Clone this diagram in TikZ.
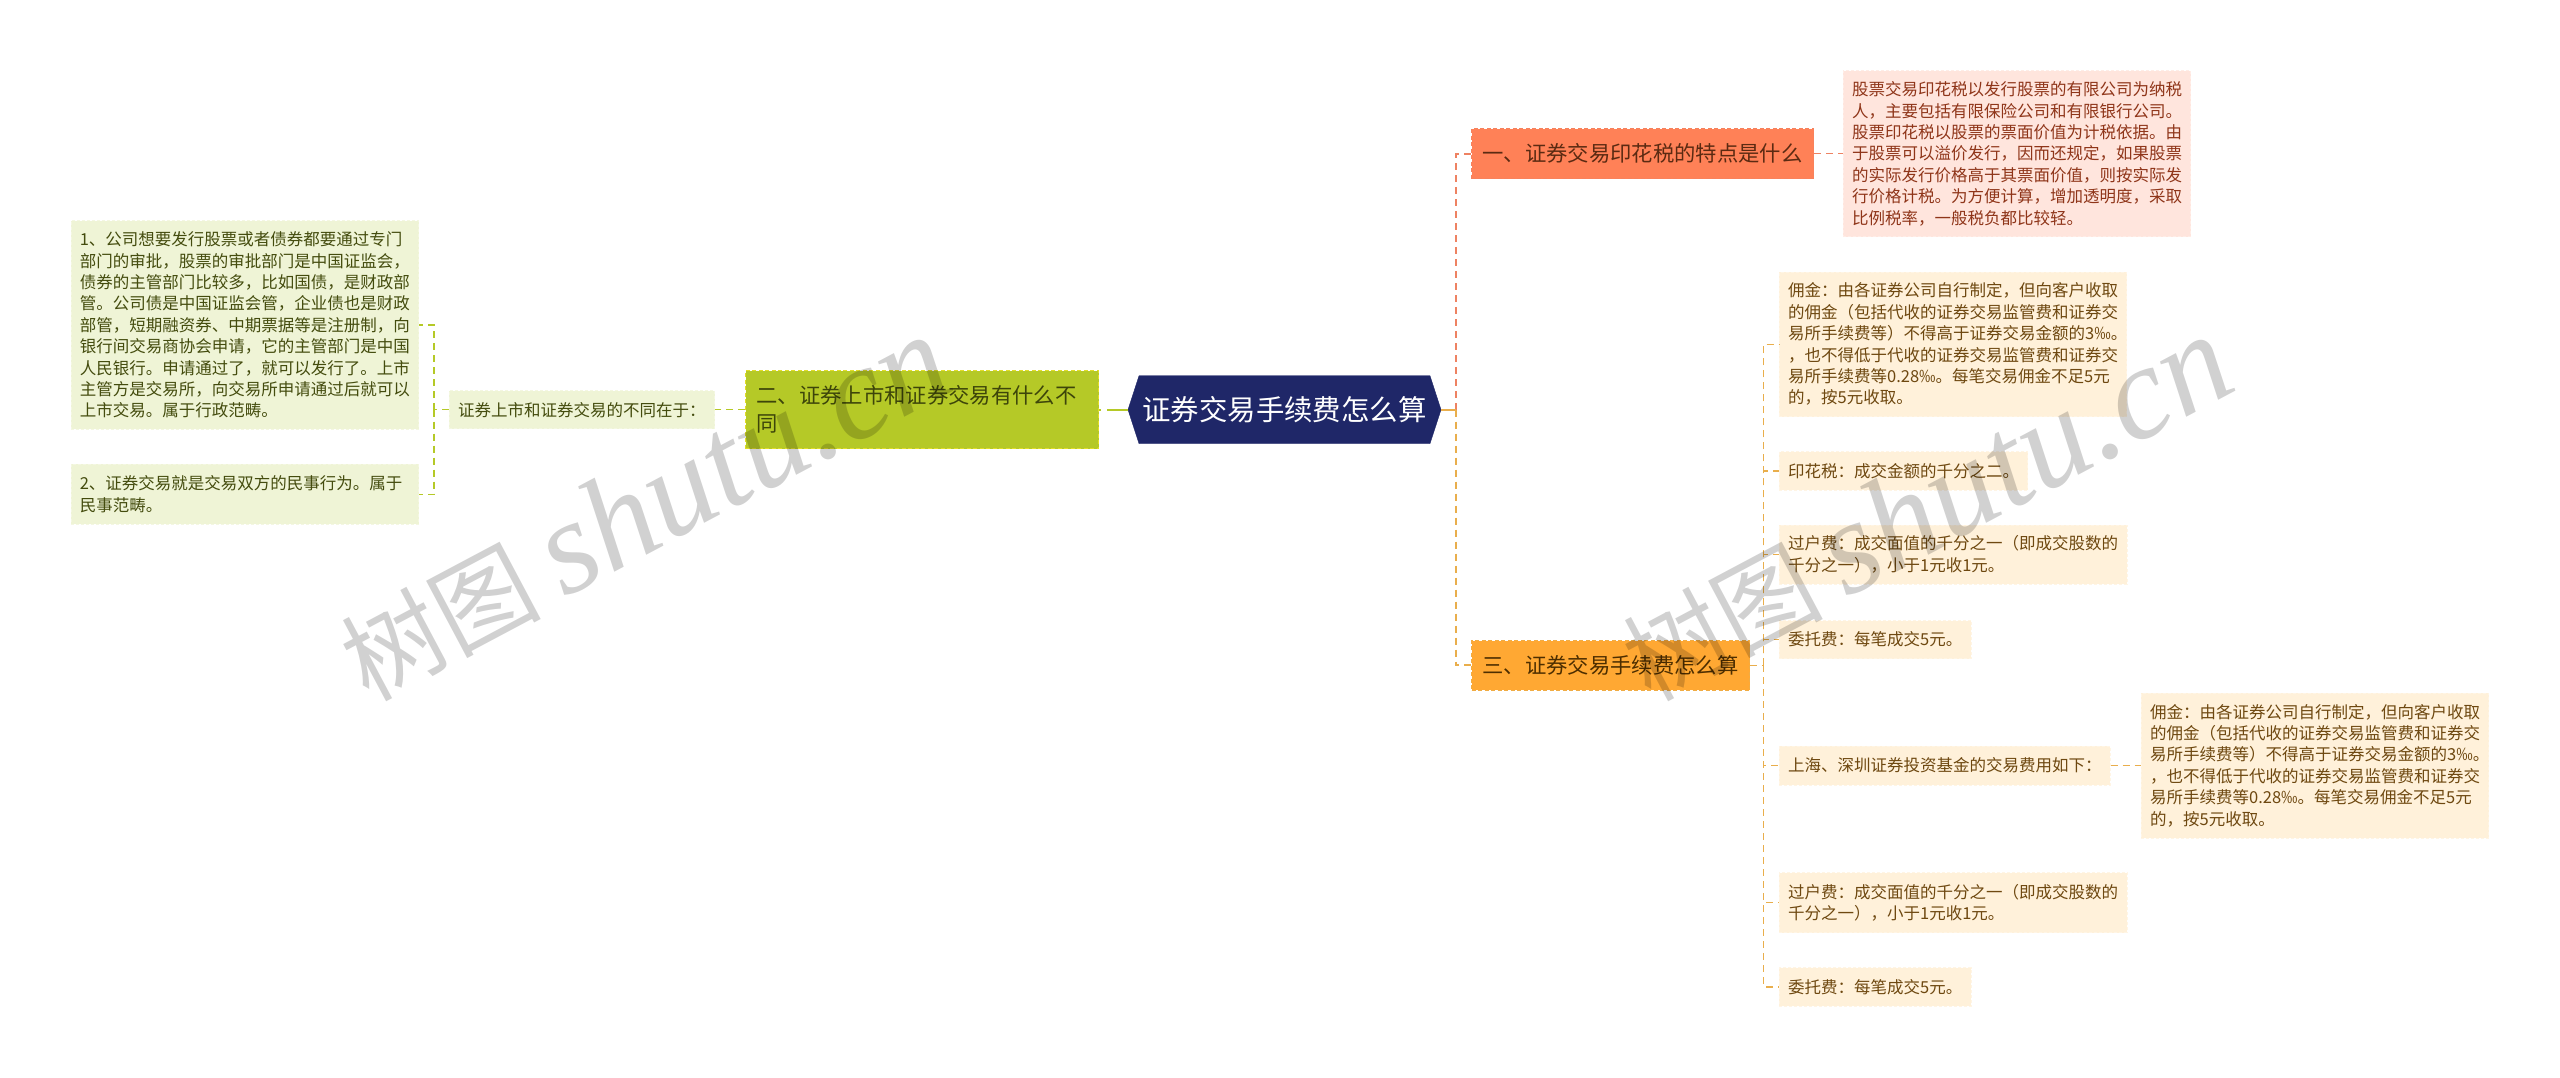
\documentclass[tikz,border=0pt]{standalone}
\usepackage{fontspec}
\setmainfont{Noto Sans CJK SC}
\newfontfamily\wmlatin{Liberation Serif}
\usetikzlibrary{shapes.symbols}
\definecolor{rootfill}{HTML}{1F2768}
\definecolor{redfill}{HTML}{FF8157}
\definecolor{redtext}{HTML}{5B2A12}
\definecolor{redline}{HTML}{EE8262}
\definecolor{redsoft}{HTML}{FFE5DD}
\definecolor{redsofttext}{HTML}{8F3519}
\definecolor{orfill}{HTML}{FFA833}
\definecolor{ortext}{HTML}{4D2E00}
\definecolor{orline}{HTML}{E9AE4C}
\definecolor{orsoft}{HTML}{FFF1DA}
\definecolor{orsofttext}{HTML}{6E4810}
\definecolor{grfill}{HTML}{B5C927}
\definecolor{grtext}{HTML}{3D450A}
\definecolor{grline}{HTML}{B5C927}
\definecolor{grsoft}{HTML}{EFF4D6}
\definecolor{grsofttext}{HTML}{444C0E}
\tikzset{
  x=1pt,y=-1pt,
  rootbox/.style={signal,signal to=east and west,signal pointer angle=144,inner sep=0pt,fill=rootfill,draw=rootfill,text=white,font=\fontsize{28.4}{34}\selectfont},
  mainbox/.style={anchor=west,inner ysep=0pt,inner xsep=0pt,font=\fontsize{21.33}{28}\selectfont,align=left,dash pattern=on 4pt off 2.5pt,line width=0pt},
  leafbox/.style={anchor=west,inner ysep=0pt,inner xsep=8.7pt,text width=#1pt-17.4pt-.8pt,font=\fontsize{16.5}{21.4}\selectfont,align=left,dash pattern=on 3pt off 2pt,line width=.8pt},
  redmain/.style={mainbox,fill=redfill,draw=redline!60!redfill,text=redtext,line width=1pt},
  ormain/.style={mainbox,fill=orfill,draw=orline!70!orfill,text=ortext,line width=1pt},
  grmain/.style={mainbox,fill=grfill,draw=yellow!55!grfill,text=grtext,line width=1pt},
  redleaf/.style={leafbox=#1,fill=redsoft,draw=redsoft!70!white,text=redsofttext},
  orleaf/.style={leafbox=#1,fill=orsoft,draw=orsoft!70!white,text=orsofttext},
  grleaf/.style={leafbox=#1,fill=grsoft,draw=grsoft!70!white,text=grsofttext},
  conn/.style={line width=2pt,dash pattern=on 7pt off 5pt},
  thinconn/.style={line width=1.4pt,dash pattern=on 7pt off 5pt},
  mark wm/.style={anchor=base west,rotate=28,text=black,text opacity=.18,inner sep=0pt},
}
\begin{document}
\begin{tikzpicture}
\useasboundingbox (0,0) rectangle (2560,1077);
\fill[white] (0,0) rectangle (2560,1077);
% connectors
\coordinate (rbus) at (1456,409.7);
\coordinate (fbus) at (1763.5,665.3);
\coordinate (lbus) at (434,409.7);
% nodes
\node[rootbox,minimum width=313pt,minimum height=68pt] (root) at (1284.5,409.7) {证券交易手续费怎么算};
\node[redmain,minimum width=342pt,minimum height=50pt] (b1) at (1471,153.7) {一、证券交易印花税的特点是什么};
\node[ormain,minimum width=278pt,minimum height=49.5pt] (b3) at (1471,665.3) {三、证券交易手续费怎么算};
\node[grmain,minimum height=78pt,text width=353pt,inner xsep=0pt] (b2) at (745,409.7) {\hspace*{11pt}二、证券上市和证券交易有什么不\\[0pt]\hspace*{11pt}同};
\node[redleaf=348,minimum height=166pt] (d1) at (1843,153.7) {股票交易印花税以发行股票的有限公司为纳税\\人，主要包括有限保险公司和有限银行公司。\\股票印花税以股票的票面价值为计税依据。由\\于股票可以溢价发行，因而还规定，如果股票\\的实际发行价格高于其票面价值，则按实际发\\行价格计税。为方便计算，增加透明度，采取\\比例税率，一般税负都比较轻。};
\node[orleaf=348,minimum height=144.7pt] (f1) at (1779,344.3) {佣金：由各证券公司自行制定，但向客户收取\\的佣金（包括代收的证券交易监管费和证券交\\易所手续费等）不得高于证券交易金额的3‰。\\，也不得低于代收的证券交易监管费和证券交\\易所手续费等0.28‰。每笔交易佣金不足5元\\的，按5元收取。};
\node[orleaf=249,minimum height=38.5pt] (f2) at (1779,470.8) {印花税：成交金额的千分之二。};
\node[orleaf=348.5,minimum height=59pt] (f3) at (1779,554.5) {过户费：成交面值的千分之一（即成交股数的\\千分之一），小于1元收1元。};
\node[orleaf=192.5,minimum height=38pt] (f4) at (1779,639.5) {委托费：每笔成交5元。};
\node[orleaf=331.5,minimum height=39pt] (f5) at (1779,765.5) {上海、深圳证券投资基金的交易费用如下：};
\node[orleaf=348,minimum height=145pt] (g1) at (2141,765.5) {佣金：由各证券公司自行制定，但向客户收取\\的佣金（包括代收的证券交易监管费和证券交\\易所手续费等）不得高于证券交易金额的3‰。\\，也不得低于代收的证券交易监管费和证券交\\易所手续费等0.28‰。每笔交易佣金不足5元\\的，按5元收取。};
\node[orleaf=348.5,minimum height=60pt] (f6) at (1779,902.7) {过户费：成交面值的千分之一（即成交股数的\\千分之一），小于1元收1元。};
\node[orleaf=192.5,minimum height=38.5pt] (f7) at (1779,986.8) {委托费：每笔成交5元。};
\node[grleaf=266,minimum height=38pt] (m1) at (449,409.7) {证券上市和证券交易的不同在于：};
\node[grleaf=348.3,minimum height=208.6pt] (l1) at (70.7,325) {1、公司想要发行股票或者债券都要通过专门\\部门的审批，股票的审批部门是中国证监会，\\债券的主管部门比较多，比如国债，是财政部\\管。公司债是中国证监会管，企业债也是财政\\部管，短期融资券、中期票据等是注册制，向\\银行间交易商协会申请，它的主管部门是中国\\人民银行。申请通过了，就可以发行了。上市\\主管方是交易所，向交易所申请通过后就可以\\上市交易。属于行政范畴。};
\node[grleaf=348.3,minimum height=60pt] (l2) at (70.7,494.3) {2、证券交易就是交易双方的民事行为。属于\\民事范畴。};
% edges
\draw[conn,redline] (rbus) |- (b1.west);
\draw[conn,orline] (rbus) |- (b3.west);
\draw[conn,orline,dash pattern=on 15pt off 0pt] (root.east) -- (rbus);
\draw[conn,grline,dash pattern=on 21pt off 6pt] (root.west) -- (b2.east);
\draw[thinconn,redline] (b1.east) -- (d1.west);
\draw[thinconn,orline] (b3.east) -- (fbus);
\foreach \n in {f1,f2,f3,f4,f5,f6,f7}{\draw[thinconn,orline] (fbus) |- (\n.west);}
\draw[thinconn,orline] (f5.east) -- (g1.west);
\draw[thinconn,grline] (b2.west) -- (m1.east);
\draw[thinconn,grline] (m1.west) -- (lbus);
\draw[thinconn,grline] (lbus) |- (l1.east);
\draw[thinconn,grline] (lbus) |- (l2.east);
% watermarks
\node[mark wm] (wm1) at (368,703) {\fontsize{100}{110}\selectfont 树图 \wmlatin\itshape\fontsize{133}{140}\selectfont shutu.cn};
\node[mark wm] (wm2) at (1650,703) {\fontsize{100}{110}\selectfont 树图 \wmlatin\itshape\fontsize{133}{140}\selectfont shutu.cn};
\end{tikzpicture}
\end{document}
